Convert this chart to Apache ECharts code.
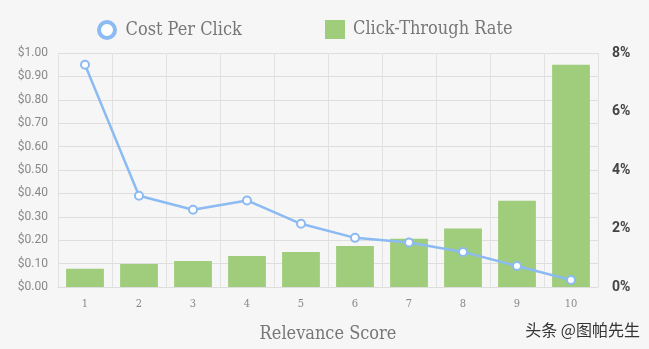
<!DOCTYPE html>
<html><head><meta charset="utf-8">
<script src="https://cdn.jsdelivr.net/npm/echarts@6/dist/echarts.min.js"></script>
<style>html,body{margin:0;padding:0;background:#f6f6f6}#c{width:649px;height:349px}</style>
</head><body><div id="c"></div>
<script>
const categories = ['1','2','3','4','5','6','7','8','9','10'];
const costPerClick = [0.95, 0.39, 0.33, 0.37, 0.27, 0.21, 0.19, 0.15, 0.09, 0.03];
const clickThroughRate = [0.62, 0.79, 0.89, 1.06, 1.2, 1.4, 1.65, 2.0, 2.95, 7.6];
const serif = '"DejaVu Serif Condensed", "DejaVu Serif", serif';
const lineColor = '#8cbaf2';
const chart = echarts.init(document.getElementById('c'));
chart.setOption({
  backgroundColor: '#f6f6f6',
  animation: false,
  legend: [
    {
      top: 15, left: 92, itemWidth: 19, itemHeight: 16,
      textStyle: { fontFamily: serif, fontSize: 18, color: '#777', padding: [0, 0, 0, 4] },
      data: [{ name: 'Cost Per Click', icon: 'circle',
        itemStyle: { color: '#fff', borderColor: lineColor, borderWidth: 4 } }]
    },
    {
      top: 15, left: 320, itemWidth: 20, itemHeight: 19,
      textStyle: { fontFamily: serif, fontSize: 18, color: '#777', padding: [0, 0, 0, 3] },
      data: [{ name: 'Click-Through Rate', icon: 'rect' }]
    }
  ],
  grid: { left: 58, right: 51, top: 53, bottom: 62 },
  xAxis: {
    type: 'category', data: categories,
    name: 'Relevance Score', nameLocation: 'middle', nameGap: 38,
    nameTextStyle: { fontFamily: serif, fontSize: 18, color: '#777' },
    axisLine: { lineStyle: { color: '#ddd' } },
    axisTick: { show: false },
    axisLabel: { fontFamily: serif, fontSize: 11, color: '#888', margin: 12 },
    splitLine: { show: true, lineStyle: { color: '#e2e2e2' } }
  },
  yAxis: [
    {
      type: 'value', min: 0, max: 1, interval: 0.1,
      axisLine: { show: false }, axisTick: { show: false },
      axisLabel: { fontFamily: 'Roboto, sans-serif', fontSize: 12, color: '#888', margin: 10,
        formatter: v => '$' + v.toFixed(2) },
      splitLine: { lineStyle: { color: '#dedede' } }
    },
    {
      type: 'value', min: 0, max: 8, interval: 2,
      axisLine: { show: false }, axisTick: { show: false },
      axisLabel: { fontFamily: 'Roboto, sans-serif', fontSize: 14, fontWeight: 'bold', color: '#444', margin: 14,
        formatter: v => v + '%' },
      splitLine: { show: false }
    }
  ],
  series: [
    {
      name: 'Click-Through Rate', type: 'bar', yAxisIndex: 1, data: clickThroughRate,
      barWidth: '70%', itemStyle: { color: '#a0cd7c' }, z: 1
    },
    {
      name: 'Cost Per Click', type: 'line', yAxisIndex: 0, data: costPerClick,
      symbol: 'circle', symbolSize: 8,
      lineStyle: { color: lineColor, width: 2.5 },
      itemStyle: { color: '#fff', borderColor: lineColor, borderWidth: 2 }, z: 3
    }
  ],
  graphic: [{
    type: 'text', right: 9, top: 322,
    style: { text: '头条 @图帕先生', font: '16px "Noto Sans CJK SC"', fill: '#333' }
  }]
});
</script></body></html>
